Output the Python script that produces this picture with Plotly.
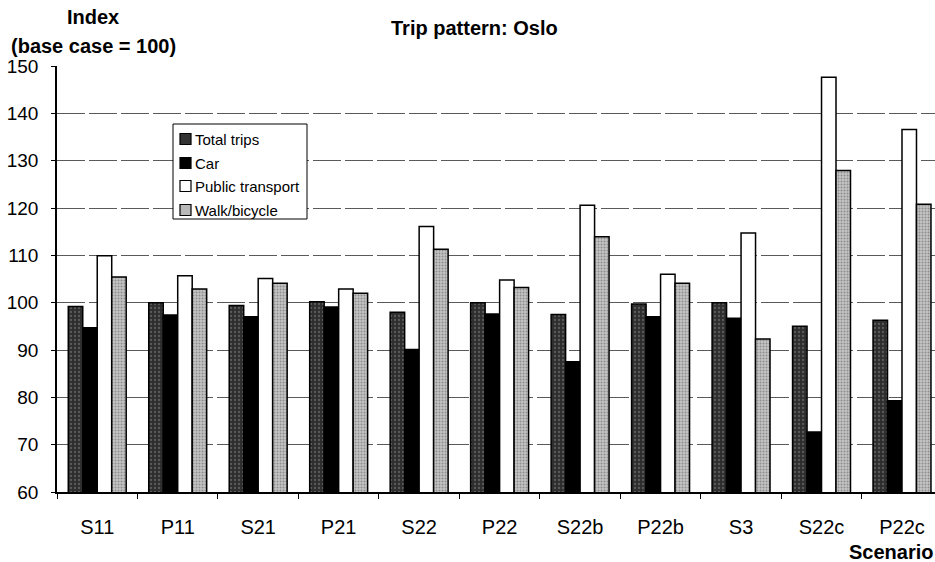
import plotly.graph_objects as go

scenarios = ["S11", "P11", "S21", "P21", "S22", "P22", "S22b", "P22b", "S3", "S22c", "P22c"]
total_trips = [99.2, 100.0, 99.4, 100.2, 98.0, 100.0, 97.5, 99.7, 100.0, 95.0, 96.3]
car = [94.7, 97.4, 97.0, 99.1, 90.1, 97.6, 87.5, 97.0, 96.7, 72.7, 79.3]
public_transport = [109.9, 105.7, 105.1, 102.9, 116.1, 104.8, 120.6, 106.0, 114.7, 147.6, 136.6]
walk_bicycle = [105.4, 102.9, 104.1, 102.0, 111.3, 103.2, 113.9, 104.1, 92.3, 127.9, 120.8]

y_ticks = [60, 70, 80, 90, 100, 110, 120, 130, 140, 150]

FONT = "Liberation Sans, Arial, sans-serif"

series = [
    ("Total trips", total_trips, "#333333",
     dict(color="#2e2e2e", pattern=dict(shape=".", fgcolor="#8a8a8a", bgcolor="#2e2e2e", size=4, solidity=0.25))),
    ("Car", car, "#000000", dict(color="#000000")),
    ("Public transport", public_transport, "#ffffff", dict(color="#ffffff")),
    ("Walk/bicycle", walk_bicycle, "#b8b8b8",
     dict(color="#bdbdbd", pattern=dict(shape=".", fgcolor="#555555", bgcolor="#c4c4c4", size=3, solidity=0.35))),
]

fig = go.Figure()
for name, vals, _, m in series:
    marker = dict(line=dict(color="#000000", width=1.5))
    marker.update(m)
    fig.add_trace(go.Bar(name=name, x=scenarios, y=vals, marker=marker, showlegend=False))

# plot area in pixels
L, R, T, B = 57, 0, 66, 70
W, H = 935, 562
plot_w = W - L - R
plot_h = H - T - B

def px(xp):
    return (xp - L) / plot_w

def py(yp):
    return (H - B - yp) / plot_h

shapes = []
annotations = [
    dict(text="<b>Trip pattern: Oslo</b>", x=px(474), y=py(28), xanchor="center",
         font=dict(size=20)),
    dict(text="<b>Index</b>", x=px(93), y=py(17), xanchor="center", font=dict(size=20)),
    dict(text="<b>(base case = 100)</b>", x=px(93), y=py(46), xanchor="center", font=dict(size=20)),
    dict(text="<b>Scenario</b>", x=px(935), y=py(552), xanchor="right", font=dict(size=20)),
]

# legend box drawn by hand
box = (173, 124, 307, 219)
shapes.append(dict(type="rect", xref="paper", yref="paper", layer="above",
                   x0=px(box[0]), x1=px(box[2]), y0=py(box[3]), y1=py(box[1]),
                   fillcolor="white", line=dict(color="#000000", width=1)))
row_y = [139, 163, 186, 210]
for (name, _, swatch, _), ry in zip(series, row_y):
    shapes.append(dict(type="rect", xref="paper", yref="paper", layer="above",
                       x0=px(180), x1=px(191), y0=py(ry + 5.5), y1=py(ry - 5.5),
                       fillcolor=swatch, line=dict(color="#000000", width=1.2)))
    annotations.append(dict(text=name, x=px(193), y=py(ry), xanchor="left",
                            font=dict(size=15)))

for a in annotations:
    a.update(xref="paper", yref="paper", yanchor="middle", showarrow=False)
    a["font"]["family"] = FONT
    a["font"]["color"] = "#000000"

fig.update_layout(
    width=W,
    height=H,
    margin=dict(l=L, r=R, t=T, b=B),
    paper_bgcolor="white",
    plot_bgcolor="white",
    barmode="group",
    bargap=0.28,
    bargroupgap=0,
    font=dict(family=FONT, color="#000000"),
    showlegend=False,
    xaxis=dict(
        range=[-0.5, 10.41],
        showline=True, linecolor="#000000", linewidth=1.5,
        ticks="outside", tickson="boundaries", ticklen=5, tickcolor="#000000",
        tickfont=dict(size=20, family=FONT),
        ticklabelstandoff=16,
        showgrid=False,
    ),
    yaxis=dict(
        range=[60, 150],
        tickvals=y_ticks,
        showline=True, linecolor="#000000", linewidth=1.5,
        ticks="outside", ticklen=4, tickcolor="#000000",
        tickfont=dict(size=19, family=FONT),
        ticklabelstandoff=9,
        showgrid=True, gridcolor="#5a5a5a", gridwidth=1, griddash="28px,4px",
        zeroline=False,
    ),
    shapes=shapes,
    annotations=annotations,
)

fig.write_html("out.html")
